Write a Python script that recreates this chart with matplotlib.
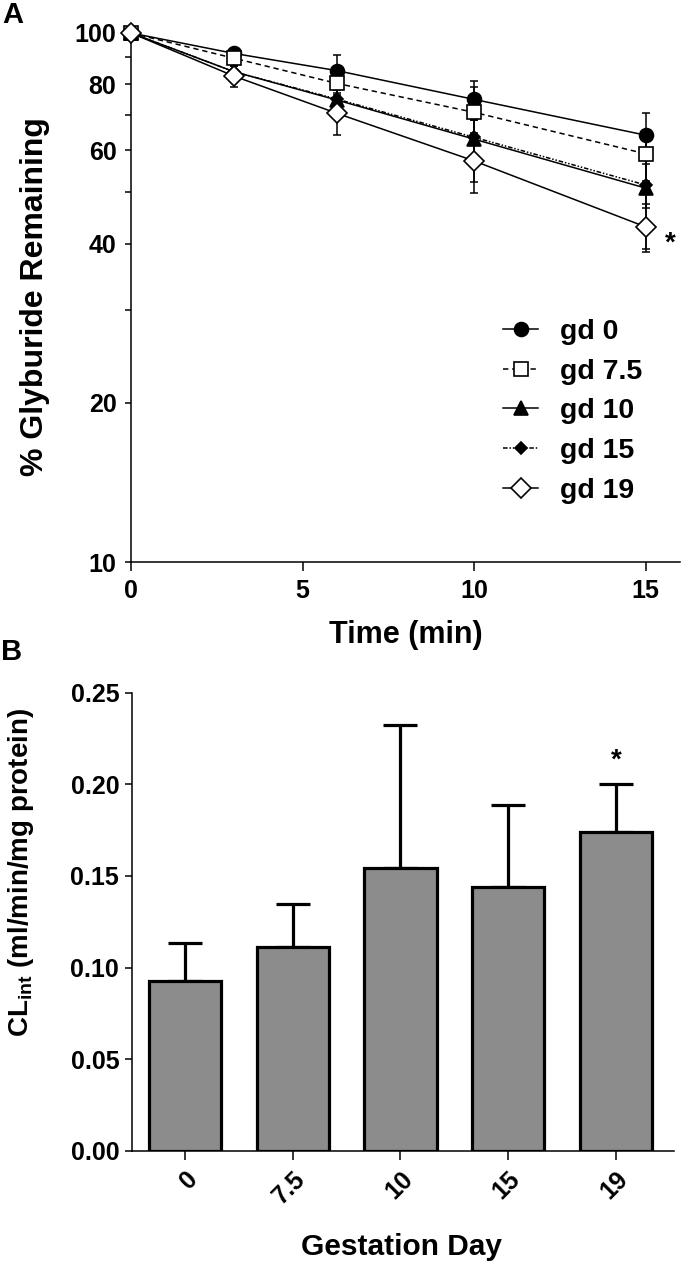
import matplotlib
matplotlib.use("Agg")
import matplotlib.pyplot as plt
from matplotlib.lines import Line2D
import matplotlib.ticker as mticker
import numpy as np

FONT = "Liberation Sans"
plt.rcParams["font.family"] = [FONT, "DejaVu Sans"]
plt.rcParams["font.weight"] = "bold"

# ---------------- data ----------------
time_min = [0, 3, 6, 10, 15]
series_labels = ["gd 0", "gd 7.5", "gd 10", "gd 15", "gd 19"]
gd0 = [100, 91.5, 84.9, 74.9, 64.1]
gd0_err = [0, 2.3, 6.0, 6.3, 6.5]
gd7_5 = [100, 89.6, 80.3, 70.8, 59.1]
gd7_5_err = [0, 2.0, 4.0, 8.3, 6.5]
gd10 = [100, 84.5, 74.7, 63.0, 50.9]
gd10_err = [0, 2.5, 3.5, 10.7, 11.8]
gd15 = [100, 84.5, 75.0, 63.5, 51.6]
gd15_err = [0, 2.0, 3.0, 5.0, 5.0]
gd19 = [100, 82.9, 70.5, 57.3, 43.0]
gd19_err = [0, 3.8, 6.4, 7.4, 4.5]

gest_days = ["0", "7.5", "10", "15", "19"]
clint = [0.0926, 0.1114, 0.1541, 0.1441, 0.1741]
clint_err = [0.0209, 0.0232, 0.0783, 0.0446, 0.0261]

W, H = 683, 1266
fig = plt.figure(figsize=(W / 100, H / 100), dpi=100)

def rect(l, t, r, b):
    return [l / W, 1 - b / H, (r - l) / W, (b - t) / H]

def fy(py):
    return 1 - py / H

# ---------------- Panel A ----------------
axA = fig.add_axes(rect(131, 33, 680, 562))
styles = [
    dict(marker="o", ls="-", mfc="black", ms=10),
    dict(marker="s", ls=(0, (3.5, 2.5)), mfc="white", ms=10),
    dict(marker="^", ls="-", mfc="black", ms=10),
    dict(marker="D", ls=(0, (3, 1.2, 1, 1.2, 1, 1.2)), mfc="black", ms=6.5),
    dict(marker="D", ls="-", mfc="white", ms=10.5),
]
ys = [gd0, gd7_5, gd10, gd15, gd19]
errs = [gd0_err, gd7_5_err, gd10_err, gd15_err, gd19_err]
handles = []
for y, e, st in zip(ys, errs, styles):
    axA.errorbar(time_min, y, yerr=e, fmt="none", ecolor="black", elinewidth=1.1,
                 capsize=3, capthick=1.1, clip_on=False, zorder=2)
    axA.plot(time_min, y, color="black", lw=1.1, ls=st["ls"], marker=st["marker"],
             mfc=st["mfc"], mec="black", mew=1.2, ms=st["ms"], clip_on=False, zorder=3)
    handles.append(Line2D([], [], color="black", lw=1.1, ls=st["ls"], marker=st["marker"],
                          mfc=st["mfc"], mec="black", mew=1.2, ms=st["ms"]))

axA.set_yscale("log")
axA.set_ylim(10, 100)
axA.set_xlim(0, 16)
axA.set_yticks([10, 20, 40, 60, 80, 100])
axA.set_yticklabels(["10", "20", "40", "60", "80", "100"])
axA.set_yticks([30, 50, 70, 90], minor=True)
axA.yaxis.set_minor_formatter(mticker.NullFormatter())
axA.set_xticks([0, 5, 10, 15])
axA.set_xticklabels(["0", "5", "10", "15"])
for s in ["top", "right"]:
    axA.spines[s].set_visible(False)
for s in ["left", "bottom"]:
    axA.spines[s].set_linewidth(1.1)
axA.tick_params(axis="y", which="both", length=4.5, width=1.1, direction="out", pad=6)
axA.tick_params(axis="x", length=6.5, width=1.1, direction="out", pad=6)
for lab in axA.get_yticklabels() + axA.get_xticklabels():
    lab.set_fontweight("bold")
    lab.set_fontsize(18)

axA.text(15.71, 38.7, "*", fontsize=20, fontweight="bold", ha="center", va="baseline")

axA.legend(handles, series_labels, loc="upper left", frameon=False,
           bbox_to_anchor=(503 / W, fy(319)), bbox_transform=fig.transFigure,
           prop=dict(weight="bold", size=20.5),
           handlelength=1.23, handletextpad=0.77, labelspacing=0.48,
           borderpad=0, borderaxespad=0)

fig.text(13 / W, fy(15), "A", fontsize=21, fontweight="bold", ha="center", va="center")
fig.text(35 / W, fy(297), "% Glyburide Remaining", rotation=90, fontsize=23,
         fontweight="bold", ha="center", va="center")
fig.text(406 / W, fy(643), "Time (min)", fontsize=22, fontweight="bold",
         ha="center", va="baseline")

# ---------------- Panel B ----------------
axB = fig.add_axes(rect(131.7, 692.7, 674, 1150.7))
xpos = np.arange(len(gest_days))
axB.bar(xpos, clint, width=0.67, color="#8c8c8c", edgecolor="black", linewidth=2.3,
        zorder=2)
axB.errorbar(xpos, clint, yerr=[np.zeros(len(clint)), clint_err], fmt="none",
             ecolor="black", elinewidth=2.3, capsize=12.5, capthick=2.3, zorder=1)
axB.set_xlim(-0.495, 4.54)
axB.set_ylim(0, 0.25)
axB.set_yticks([0, 0.05, 0.10, 0.15, 0.20, 0.25])
axB.set_yticklabels(["0.00", "0.05", "0.10", "0.15", "0.20", "0.25"])
axB.set_xticks(xpos)
axB.set_xticklabels(gest_days, rotation=45, ha="right", rotation_mode="anchor")
for s in ["top", "right"]:
    axB.spines[s].set_visible(False)
for s in ["left", "bottom"]:
    axB.spines[s].set_linewidth(1.1)
axB.tick_params(axis="y", length=5, width=1.1, pad=4)
axB.tick_params(axis="x", length=6.5, width=1.1, pad=5)
for lab in axB.get_yticklabels() + axB.get_xticklabels():
    lab.set_fontweight("bold")
    lab.set_fontsize(18)

axB.text(4, 0.209, "*", fontsize=20, fontweight="bold", ha="center", va="baseline")

fig.text(12 / W, fy(652), "B", fontsize=21, fontweight="bold", ha="center", va="center")
fig.text(21 / W, fy(872), r"CL$_{\mathregular{int}}$ (ml/min/mg protein)", rotation=90,
         fontsize=20, fontweight="bold", ha="center", va="center")
fig.text(401 / W, fy(1255), "Gestation Day", fontsize=21.5, fontweight="bold",
         ha="center", va="baseline")

fig.savefig("out.png", dpi=100)
